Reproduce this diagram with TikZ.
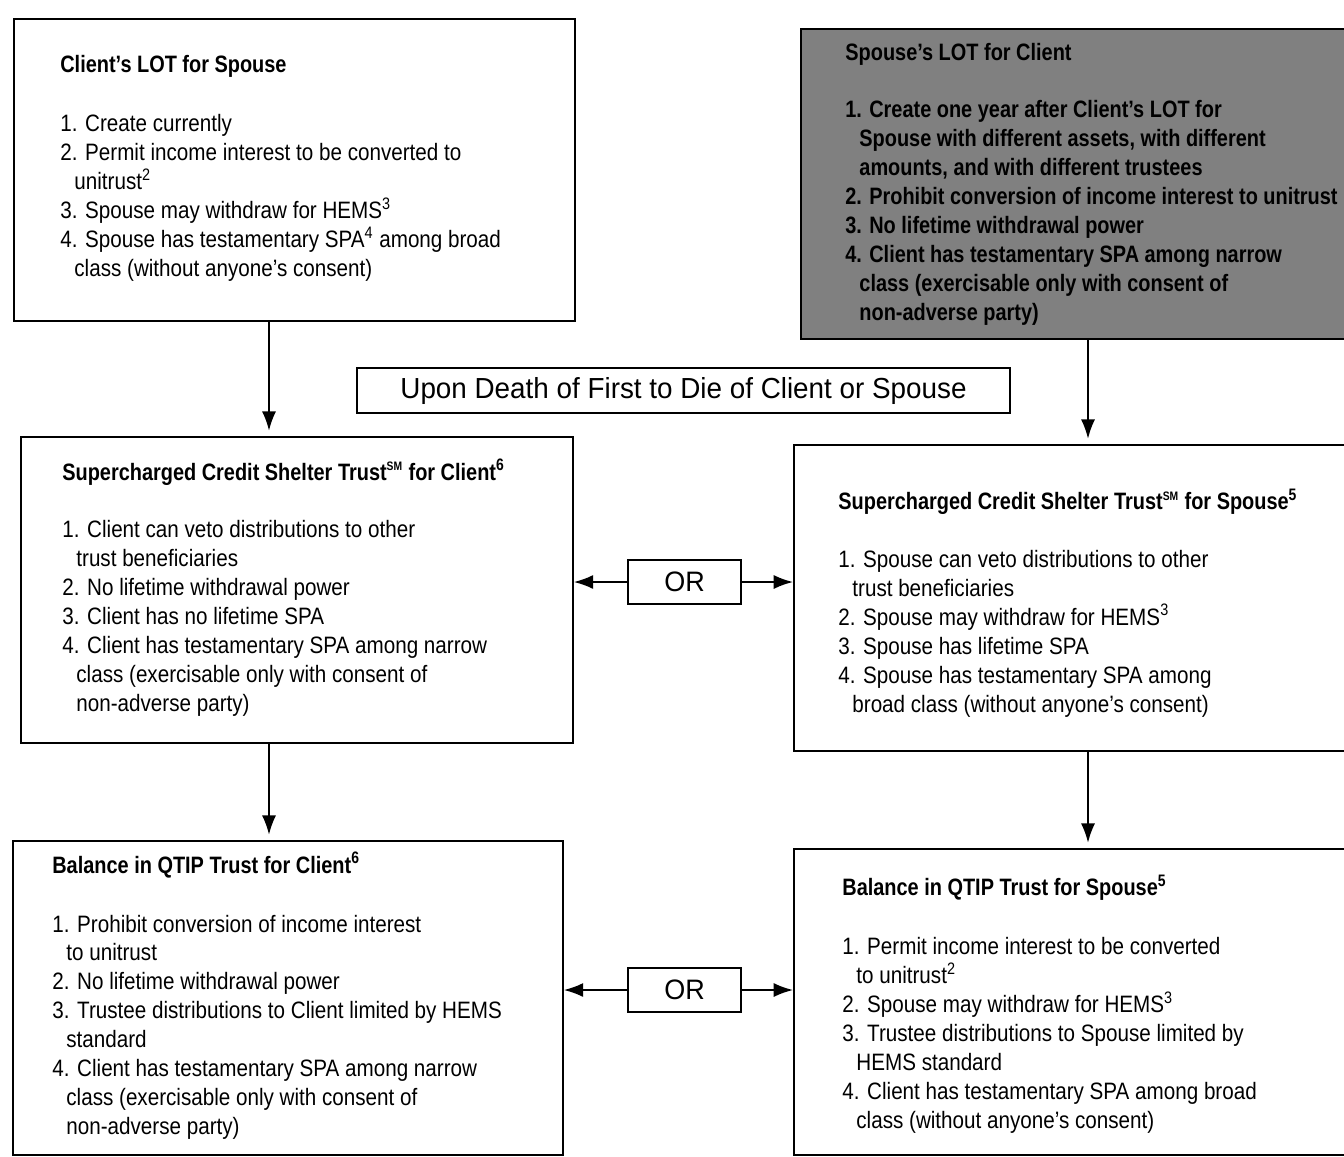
\documentclass[tikz,border=0pt]{standalone}
\usepackage{fontspec}
\setmainfont[FakeStretch=0.87, BoldFeatures={FakeStretch=0.84}]{Liberation Sans}
\newfontfamily\bannerfont[FakeStretch=0.96]{Liberation Sans}
\usetikzlibrary{arrows.meta,positioning}
\newcommand{\bodysize}{\fontsize{13.5}{16.5}\selectfont}
\newcommand{\more}{\hspace*{8pt}}
\newcommand{\fn}[1]{\textsuperscript{#1}}
\newcommand{\sm}{\textsuperscript{\scriptsize SM}}

\tikzset{
  box/.style={draw, line width=1.1pt, anchor=north west, inner sep=0pt},
  txt/.style={anchor=north west, inner sep=0pt, align=left, font=\bodysize},
  arr/.style={-{Latex[length=11pt,width=8pt]}, line width=1pt},
  down/.style={arr, shorten >=3pt},
  orbox/.style={draw, line width=1.1pt, minimum width=2.26cm, minimum height=0.88cm,
    font=\bannerfont\fontsize{16}{19}\selectfont},
}

\begin{document}
\begin{tikzpicture}[x=0.02cm, y=-0.02cm]
    \useasboundingbox (0,0) rectangle (1344,1156);

    % top row: the two LOTs
    \node[box, minimum width=11.22cm, minimum height=6.04cm] (lotc) at (13,18) {};
    \node[txt] (lotctxt) at (60,55) {\textbf{Client's LOT for Spouse}\\[17pt]
        1. Create currently\\
        2. Permit income interest to be converted to\\
        \more unitrust\fn{2}\\
        3. Spouse may withdraw for HEMS\fn{3}\\
        4. Spouse has testamentary SPA\fn{4} among broad\\
        \more class (without anyone's consent)};

    \node[box, fill=black!50, minimum width=11.2cm, minimum height=6.2cm] (lots) at (800,28) {};
    \node[txt] (lotstxt) at (845,43) {\textbf{Spouse's LOT for Client}\\[16pt]
        \textbf{1. Create one year after Client's LOT for}\\
        \more\textbf{Spouse with different assets, with different}\\
        \more\textbf{amounts, and with different trustees}\\
        \textbf{2. Prohibit conversion of income interest to unitrust}\\
        \textbf{3. No lifetime withdrawal power}\\
        \textbf{4. Client has testamentary SPA among narrow}\\
        \more\textbf{class (exercisable only with consent of}\\
        \more\textbf{non-adverse party)}};

    \node[draw, line width=1.1pt, minimum width=13.06cm, minimum height=0.9cm,
        font=\bannerfont\fontsize{16.5}{19}\selectfont] (death) at (683.5,390.5)
        {Upon Death of First to Die of Client or Spouse};

    % middle row: credit shelter trusts
    \node[box, minimum width=11.04cm, minimum height=6.12cm] (cstc) at (20,436) {};
    \node[txt] (cstctxt) at (62,459) {\textbf{Supercharged Credit Shelter Trust\sm{} for Client\fn{6}}\\[16pt]
        1. Client can veto distributions to other\\
        \more trust beneficiaries\\
        2. No lifetime withdrawal power\\
        3. Client has no lifetime SPA\\
        4. Client has testamentary SPA among narrow\\
        \more class (exercisable only with consent of\\
        \more non-adverse party)};

    \node[box, minimum width=11.2cm, minimum height=6.12cm] (csts) at (793,444) {};
    \node[txt] (cststxt) at (838,489) {\textbf{Supercharged Credit Shelter Trust\sm{} for Spouse\fn{5}}\\[16pt]
        1. Spouse can veto distributions to other\\
        \more trust beneficiaries\\
        2. Spouse may withdraw for HEMS\fn{3}\\
        3. Spouse has lifetime SPA\\
        4. Spouse has testamentary SPA among\\
        \more broad class (without anyone's consent)};

    \node[orbox] (orcst) at (684.5,582) {OR};

    % bottom row: QTIP trusts
    \node[box, minimum width=11.0cm, minimum height=6.28cm] (qtipc) at (12,840) {};
    \node[txt] (qtipctxt) at (52,852) {\textbf{Balance in QTIP Trust for Client\fn{6}}\\[17pt]
        1. Prohibit conversion of income interest\\
        \more to unitrust\\
        2. No lifetime withdrawal power\\
        3. Trustee distributions to Client limited by HEMS\\
        \more standard\\
        4. Client has testamentary SPA among narrow\\
        \more class (exercisable only with consent of\\
        \more non-adverse party)};

    \node[box, minimum width=11.2cm, minimum height=6.12cm] (qtips) at (793,848) {};
    \node[txt] (qtipstxt) at (842,875) {\textbf{Balance in QTIP Trust for Spouse\fn{5}}\\[17pt]
        1. Permit income interest to be converted\\
        \more to unitrust\fn{2}\\
        2. Spouse may withdraw for HEMS\fn{3}\\
        3. Trustee distributions to Spouse limited by\\
        \more HEMS standard\\
        4. Client has testamentary SPA among broad\\
        \more class (without anyone's consent)};

    \node[orbox] (orqtip) at (684.5,990) {OR};

    % connectors
    \coordinate (vleft) at (269,0);
    \coordinate (vright) at (1088,0);
    \draw[down] (lotc.south -| vleft) -- (cstc.north -| vleft);
    \draw[down] (cstc.south -| vleft) -- (qtipc.north -| vleft);
    \draw[down] (lots.south -| vright) -- (csts.north -| vright);
    \draw[down] (csts.south -| vright) -- (qtips.north -| vright);

    \draw[arr] (orcst.west) -- (orcst.west -| cstc.east);
    \draw[arr] (orcst.east) -- (orcst.east -| csts.west);
    \draw[arr] (orqtip.west) -- (orqtip.west -| qtipc.east);
    \draw[arr] (orqtip.east) -- (orqtip.east -| qtips.west);
\end{tikzpicture}
\end{document}
